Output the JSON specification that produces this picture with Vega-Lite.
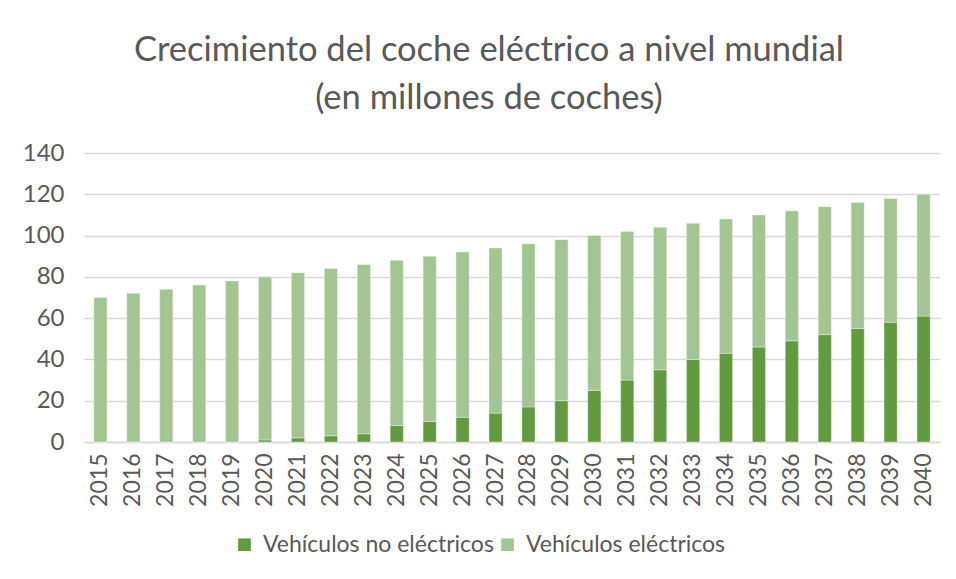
{
  "$schema": "https://vega.github.io/schema/vega-lite/v6.json",
  "width": 856,
  "height": 289,
  "autosize": "none",
  "padding": {"left": 84, "top": 153, "right": 16, "bottom": 137},
  "background": "white",
  "title": {
    "text": ["Crecimiento del coche eléctrico a nivel mundial", "(en millones de coches)"],
    "font": "Lato",
    "fontSize": 34.5,
    "fontWeight": "normal",
    "color": "#595959",
    "anchor": "middle",
    "frame": "group",
    "dx": -23,
    "offset": 25,
    "lineHeight": 48
  },
  "config": {
    "view": {"stroke": null},
    "font": "Lato"
  },
  "data": {
    "values": [
      {"year": "2015", "tipo": "Vehículos no eléctricos", "orden": 1, "valor": 0},
      {"year": "2015", "tipo": "Vehículos eléctricos", "orden": 2, "valor": 70},
      {"year": "2016", "tipo": "Vehículos no eléctricos", "orden": 1, "valor": 0},
      {"year": "2016", "tipo": "Vehículos eléctricos", "orden": 2, "valor": 72},
      {"year": "2017", "tipo": "Vehículos no eléctricos", "orden": 1, "valor": 0},
      {"year": "2017", "tipo": "Vehículos eléctricos", "orden": 2, "valor": 74},
      {"year": "2018", "tipo": "Vehículos no eléctricos", "orden": 1, "valor": 0},
      {"year": "2018", "tipo": "Vehículos eléctricos", "orden": 2, "valor": 76},
      {"year": "2019", "tipo": "Vehículos no eléctricos", "orden": 1, "valor": 0},
      {"year": "2019", "tipo": "Vehículos eléctricos", "orden": 2, "valor": 78},
      {"year": "2020", "tipo": "Vehículos no eléctricos", "orden": 1, "valor": 1},
      {"year": "2020", "tipo": "Vehículos eléctricos", "orden": 2, "valor": 79},
      {"year": "2021", "tipo": "Vehículos no eléctricos", "orden": 1, "valor": 2},
      {"year": "2021", "tipo": "Vehículos eléctricos", "orden": 2, "valor": 80},
      {"year": "2022", "tipo": "Vehículos no eléctricos", "orden": 1, "valor": 3},
      {"year": "2022", "tipo": "Vehículos eléctricos", "orden": 2, "valor": 81},
      {"year": "2023", "tipo": "Vehículos no eléctricos", "orden": 1, "valor": 4},
      {"year": "2023", "tipo": "Vehículos eléctricos", "orden": 2, "valor": 82},
      {"year": "2024", "tipo": "Vehículos no eléctricos", "orden": 1, "valor": 8},
      {"year": "2024", "tipo": "Vehículos eléctricos", "orden": 2, "valor": 80},
      {"year": "2025", "tipo": "Vehículos no eléctricos", "orden": 1, "valor": 10},
      {"year": "2025", "tipo": "Vehículos eléctricos", "orden": 2, "valor": 80},
      {"year": "2026", "tipo": "Vehículos no eléctricos", "orden": 1, "valor": 12},
      {"year": "2026", "tipo": "Vehículos eléctricos", "orden": 2, "valor": 80},
      {"year": "2027", "tipo": "Vehículos no eléctricos", "orden": 1, "valor": 14},
      {"year": "2027", "tipo": "Vehículos eléctricos", "orden": 2, "valor": 80},
      {"year": "2028", "tipo": "Vehículos no eléctricos", "orden": 1, "valor": 17},
      {"year": "2028", "tipo": "Vehículos eléctricos", "orden": 2, "valor": 79},
      {"year": "2029", "tipo": "Vehículos no eléctricos", "orden": 1, "valor": 20},
      {"year": "2029", "tipo": "Vehículos eléctricos", "orden": 2, "valor": 78},
      {"year": "2030", "tipo": "Vehículos no eléctricos", "orden": 1, "valor": 25},
      {"year": "2030", "tipo": "Vehículos eléctricos", "orden": 2, "valor": 75},
      {"year": "2031", "tipo": "Vehículos no eléctricos", "orden": 1, "valor": 30},
      {"year": "2031", "tipo": "Vehículos eléctricos", "orden": 2, "valor": 72},
      {"year": "2032", "tipo": "Vehículos no eléctricos", "orden": 1, "valor": 35},
      {"year": "2032", "tipo": "Vehículos eléctricos", "orden": 2, "valor": 69},
      {"year": "2033", "tipo": "Vehículos no eléctricos", "orden": 1, "valor": 40},
      {"year": "2033", "tipo": "Vehículos eléctricos", "orden": 2, "valor": 66},
      {"year": "2034", "tipo": "Vehículos no eléctricos", "orden": 1, "valor": 43},
      {"year": "2034", "tipo": "Vehículos eléctricos", "orden": 2, "valor": 65},
      {"year": "2035", "tipo": "Vehículos no eléctricos", "orden": 1, "valor": 46},
      {"year": "2035", "tipo": "Vehículos eléctricos", "orden": 2, "valor": 64},
      {"year": "2036", "tipo": "Vehículos no eléctricos", "orden": 1, "valor": 49},
      {"year": "2036", "tipo": "Vehículos eléctricos", "orden": 2, "valor": 63},
      {"year": "2037", "tipo": "Vehículos no eléctricos", "orden": 1, "valor": 52},
      {"year": "2037", "tipo": "Vehículos eléctricos", "orden": 2, "valor": 62},
      {"year": "2038", "tipo": "Vehículos no eléctricos", "orden": 1, "valor": 55},
      {"year": "2038", "tipo": "Vehículos eléctricos", "orden": 2, "valor": 61},
      {"year": "2039", "tipo": "Vehículos no eléctricos", "orden": 1, "valor": 58},
      {"year": "2039", "tipo": "Vehículos eléctricos", "orden": 2, "valor": 60},
      {"year": "2040", "tipo": "Vehículos no eléctricos", "orden": 1, "valor": 61},
      {"year": "2040", "tipo": "Vehículos eléctricos", "orden": 2, "valor": 59}
    ]
  },
  "mark": {"type": "bar", "stroke": "white", "strokeWidth": 0.6, "strokeOpacity": 0.6},
  "encoding": {
    "x": {
      "field": "year",
      "type": "ordinal",
      "scale": {"paddingInner": 0.6, "paddingOuter": 0.3},
      "axis": {
        "title": null,
        "labelAngle": -90,
        "labelFontSize": 23,
        "labelColor": "#595959",
        "labelPadding": 11,
        "ticks": false,
        "domainColor": "#D9D9D9",
        "domainWidth": 1.5
      }
    },
    "y": {
      "field": "valor",
      "type": "quantitative",
      "stack": "zero",
      "scale": {"domain": [0, 140]},
      "axis": {
        "title": null,
        "values": [0, 20, 40, 60, 80, 100, 120, 140],
        "labelFontSize": 24,
        "labelColor": "#595959",
        "labelPadding": 20,
        "ticks": false,
        "domain": false,
        "gridColor": "#D9D9D9",
        "gridWidth": 1.5
      }
    },
    "color": {
      "field": "tipo",
      "type": "nominal",
      "scale": {
        "domain": ["Vehículos no eléctricos", "Vehículos eléctricos"],
        "range": ["#629A3E", "#A2C592"]
      },
      "legend": {
        "title": null,
        "orient": "none",
        "legendX": 149,
        "legendY": 380,
        "direction": "horizontal",
        "symbolType": "square",
        "symbolSize": 160,
        "symbolStrokeWidth": 0,
        "symbolOpacity": 1,
        "labelFontSize": 23,
        "labelColor": "#595959",
        "labelOffset": 7,
        "columnPadding": 2,
        "labelLimit": 400
      }
    },
    "order": {"field": "orden", "type": "quantitative"}
  }
}
